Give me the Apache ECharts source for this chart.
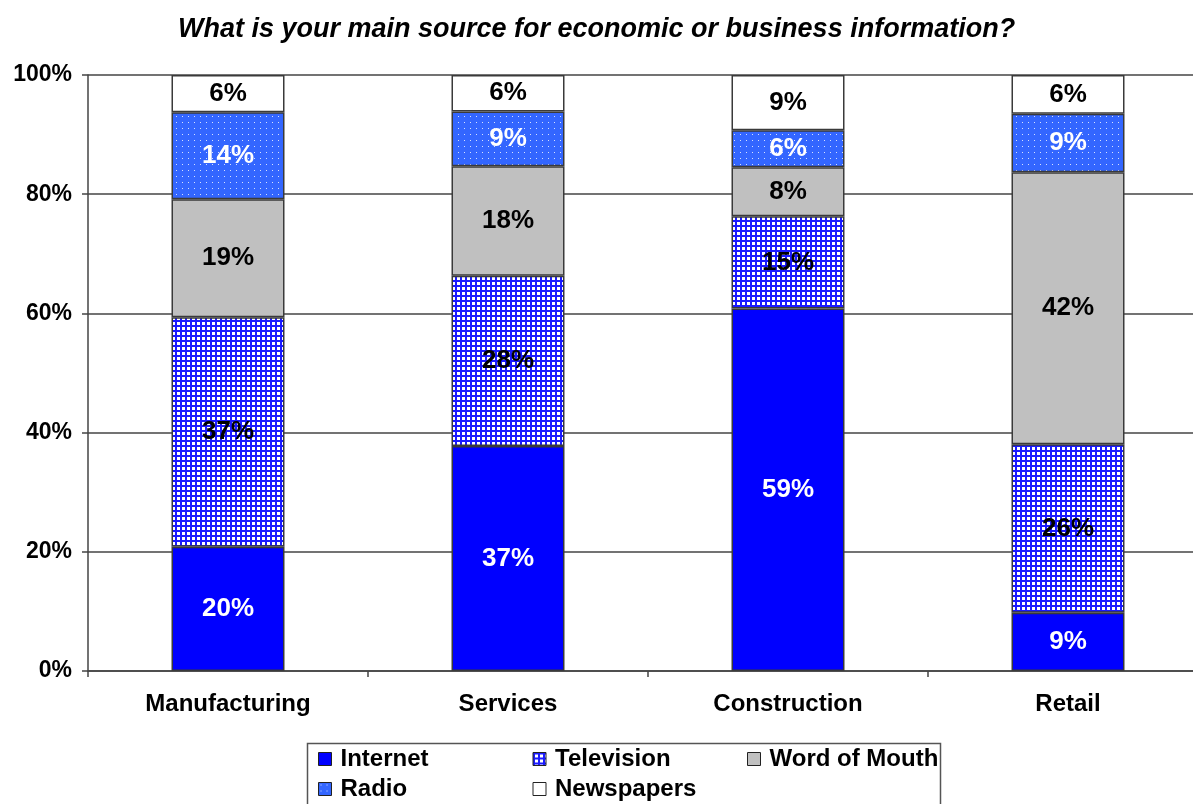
<!DOCTYPE html>
<html>
<head>
<meta charset="utf-8">
<script src="https://cdn.jsdelivr.net/npm/echarts@6/dist/echarts.min.js"></script>
<style>
html,body{margin:0;padding:0;background:#fff;overflow:hidden;width:1193px;height:804px;}
#chart{width:1215px;height:804px;}
</style>
</head>
<body>
<div id="chart"></div>
<script>
const categories = ['Manufacturing', 'Services', 'Construction', 'Retail'];
const internet    = [20, 37, 59, 9];
const television  = [37, 28, 15, 26];
const wordOfMouth = [19, 18, 8, 42];
const radio       = [14, 9, 6, 9];
const newspapers  = [6, 6, 9, 6];
const seriesNames = ['Internet', 'Television', 'Word of Mouth', 'Radio', 'Newspapers'];
const titleText = 'What is your main source for economic or business information?';

const rawSeries = [internet, television, wordOfMouth, radio, newspapers];
const totals = categories.map((c, i) => rawSeries.reduce((s, arr) => s + arr[i], 0));

function makeTV() {
  const c = document.createElement('canvas');
  c.width = 5; c.height = 5;
  const ctx = c.getContext('2d');
  ctx.fillStyle = '#ffffff'; ctx.fillRect(0, 0, 5, 5);
  ctx.fillStyle = '#1a1aff';
  ctx.fillRect(0, 0, 5, 2);
  ctx.fillRect(0, 0, 2, 5);
  return c;
}
function makeRadio() {
  const c = document.createElement('canvas');
  c.width = 6; c.height = 6;
  const ctx = c.getContext('2d');
  ctx.fillStyle = '#3366ff'; ctx.fillRect(0, 0, 6, 6);
  ctx.fillStyle = 'rgba(255,255,255,0.8)';
  ctx.fillRect(2, 2, 1, 1);
  return c;
}

const fills = [
  '#0000ff',
  { image: makeTV(), repeat: 'repeat' },
  '#c0c0c0',
  { image: makeRadio(), repeat: 'repeat' },
  '#ffffff'
];
const labelColors = ['#ffffff', '#000000', '#000000', '#ffffff', '#000000'];

const series = seriesNames.map((name, k) => ({
  name: name,
  type: 'bar',
  stack: 'total',
  barWidth: 113,
  data: rawSeries[k].map((v, i) => ({ value: v / totals[i] * 100, raw: v })),
  itemStyle: { color: fills[k], borderColor: '#3a3a3a', borderWidth: 1.5 },
  label: {
    show: true,
    position: 'inside',
    color: labelColors[k],
    fontFamily: 'Liberation Sans',
    fontWeight: 'bold',
    fontSize: 26,
    formatter: p => p.data.raw + '%'
  },
  emphasis: { disabled: true }
}));

const chart = echarts.init(document.getElementById('chart'), null, { renderer: 'canvas' });
chart.setOption({
  animation: false,
  backgroundColor: '#ffffff',
  title: {
    text: titleText,
    left: 173,
    top: 11,
    textStyle: {
      fontFamily: 'Liberation Sans',
      fontStyle: 'italic',
      fontWeight: 'bold',
      fontSize: 27,
      color: '#000'
    }
  },
  grid: { left: 88, right: 7, top: 75, height: 596, containLabel: false },
  legend: {
    data: seriesNames,
    left: 318,
    top: 744,
    width: 700,
    padding: 0,
    orient: 'horizontal',
    itemWidth: 13,
    itemHeight: 13,
    itemGap: 0,
    icon: 'rect',
    itemStyle: { borderColor: '#222', borderWidth: 1 },
    textStyle: {
      fontFamily: 'Liberation Sans',
      fontWeight: 'bold',
      fontSize: 24,
      color: '#000',
      width: 192,
      lineHeight: 30,
      padding: [0, 0, 0, 4]
    },
    selectedMode: false
  },
  xAxis: {
    type: 'category',
    data: categories,
    axisLine: { lineStyle: { color: '#444', width: 1.5 } },
    axisTick: { show: true, length: 6, lineStyle: { color: '#444', width: 1.5 } },
    axisLabel: {
      margin: 21,
      fontFamily: 'Liberation Sans',
      fontWeight: 'bold',
      fontSize: 24,
      color: '#000'
    }
  },
  yAxis: {
    type: 'value',
    min: 0,
    max: 100,
    interval: 20,
    axisLine: { show: true, lineStyle: { color: '#444', width: 1.5 } },
    axisTick: { show: true, length: 6, lineStyle: { color: '#444', width: 1.5 } },
    splitLine: { show: true, lineStyle: { color: '#444', width: 1.5 } },
    axisLabel: {
      margin: 16,
      formatter: '{value}%',
      fontFamily: 'Liberation Sans',
      fontWeight: 'bold',
      fontSize: 23,
      color: '#000'
    }
  },
  graphic: [{
    type: 'rect',
    shape: { x: 307.5, y: 743.5, width: 633, height: 80 },
    style: { fill: 'none', stroke: '#555', lineWidth: 1.5 },
    z: 10
  }],
  series: series
});
</script>
</body>
</html>
